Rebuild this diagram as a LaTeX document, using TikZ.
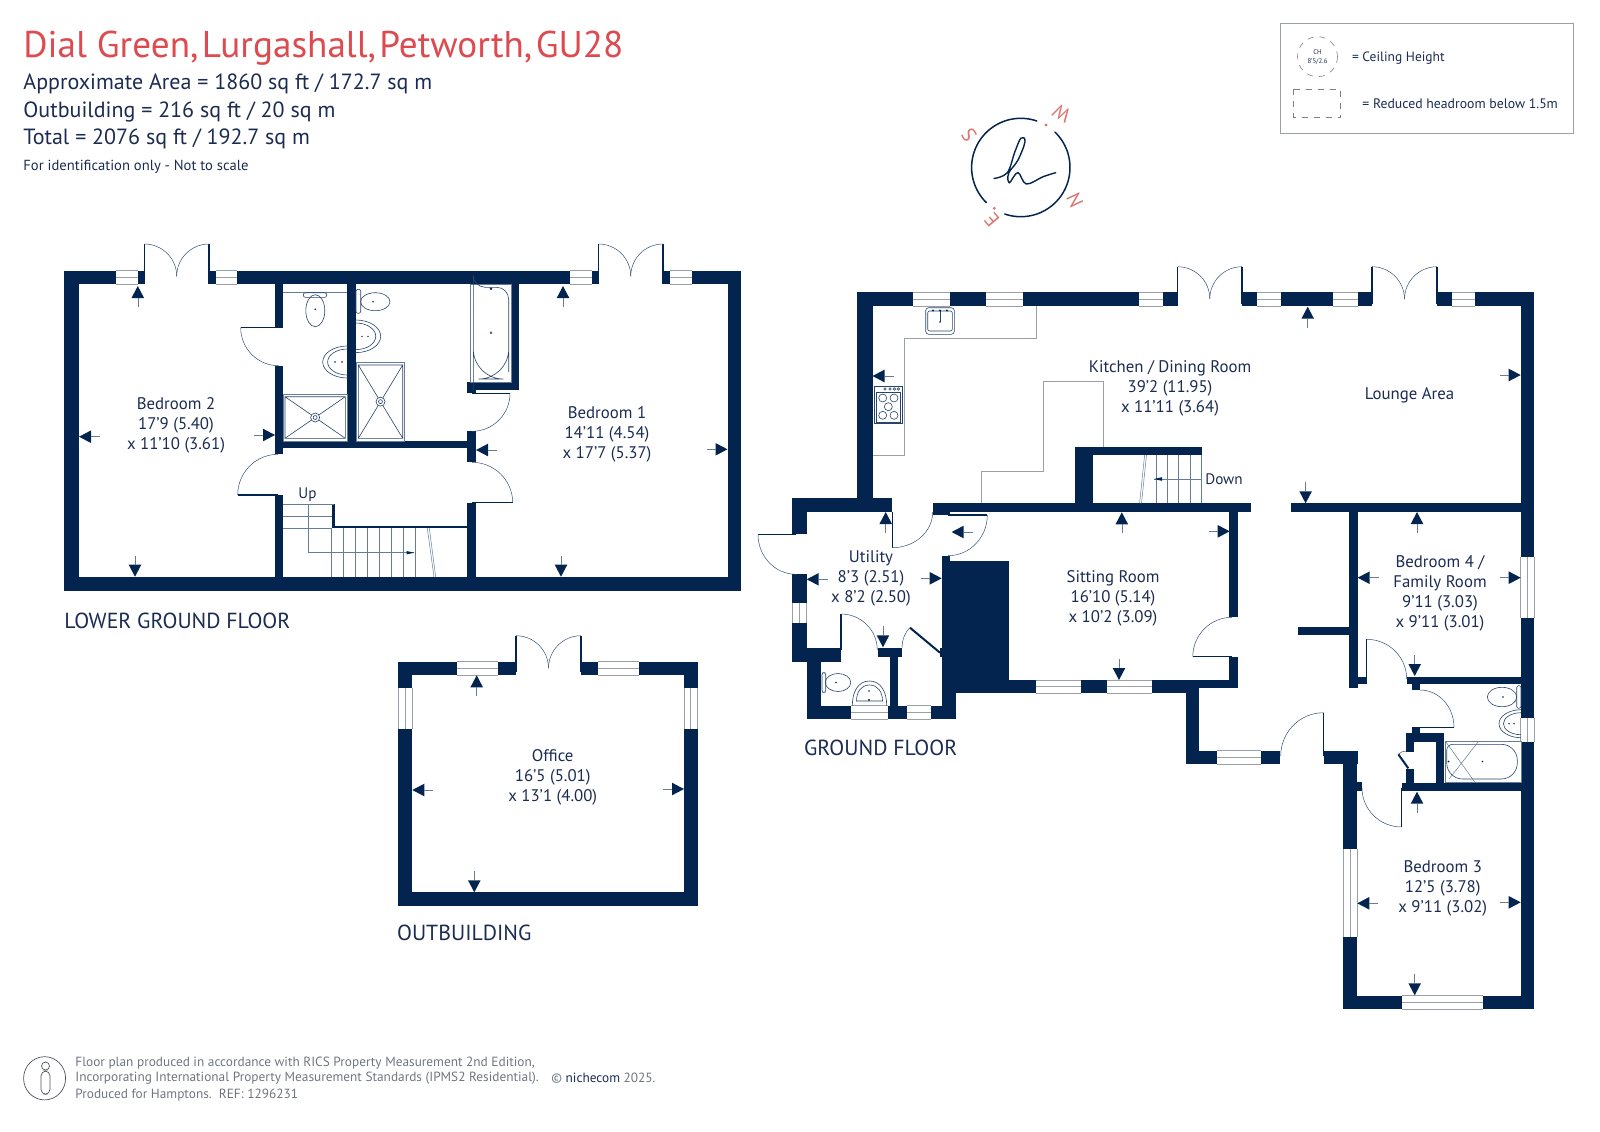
\documentclass[tikz,border=0pt]{standalone}
\usepackage{fontspec}
\setmainfont{PT Sans}
\definecolor{navy}{HTML}{02244F}
\definecolor{txt}{HTML}{1B2B52}
\definecolor{titlered}{HTML}{DD4A4F}
\definecolor{salmon}{HTML}{D9766F}
\definecolor{footg}{HTML}{6F7580}
\definecolor{wingrey}{HTML}{9AA0A8}
\tikzset{
 leaf/.style={draw=navy,line width=.7pt},
 swing/.style={draw=navy!80,line width=.25pt},
 fit/.style={draw=navy!85,line width=.3pt},
 fine/.style={draw=navy!60,line width=.25pt},
 worktop/.style={draw=wingrey,line width=.4pt},
 winline/.style={draw=wingrey,line width=.4pt},
 tail/.style={draw=navy!60,line width=.3pt},
 roomtxt/.style={text=txt,align=center,inner sep=0pt,yshift=-.9pt,font=\fontsize{8.4}{10}\selectfont},
 floortxt/.style={text=txt,anchor=west,inner sep=0pt,font=\fontsize{10.9}{12}\selectfont},
 headtxt/.style={text=txt,anchor=base west,inner sep=0pt,font=\fontsize{11}{13}\selectfont},
 foottxt/.style={text=footg,anchor=west,inner sep=0pt,font=\fontsize{6.66}{8}\selectfont},
 comp/.style={text=salmon,inner sep=0pt,font=\fontsize{10}{11}\selectfont},
}
\newcommand\wl[4]{\fill[navy] (#1,#2) rectangle (#3,#4);}
\newcommand\winh[4]{\fill[white] (#1,#2) rectangle (#3,#4);
 \draw[winline] (#1,#2) -- (#3,#2) (#1,{(#2+#4)/2}) -- (#3,{(#2+#4)/2}) (#1,#4) -- (#3,#4);}
\newcommand\winv[4]{\fill[white] (#1,#2) rectangle (#3,#4);
 \draw[winline] (#1,#2) -- (#1,#4) ({(#1+#3)/2},#2) -- ({(#1+#3)/2},#4) (#3,#2) -- (#3,#4);}
% centre, leaf end, arc end
\newcommand\qarc[6]{\draw[swing] (#3,#4) .. controls ({#3+.5523*(#5-#1)},{#4+.5523*(#6-#2)}) and ({#5+.5523*(#3-#1)},{#6+.5523*(#4-#2)}) .. (#5,#6);}
\newcommand\door[6]{\draw[leaf] (#1,#2) -- (#3,#4);\qarc{#1}{#2}{#3}{#4}{#5}{#6}}
\newcommand\fdoor[4]{\draw[leaf] (#1,#4) -- (#1,#3) (#2,#4) -- (#2,#3);
 \pgfmathsetmacro\fdm{(#1+#2)/2}\pgfmathsetmacro\fdy{#3+(#2-#1)/2}
 \qarc{#1}{\fdy}{#1}{#3}{\fdm}{\fdy}
 \qarc{#2}{\fdy}{#2}{#3}{\fdm}{\fdy}}
\newcommand\arrU[2]{\fill[navy] (#1,#2) -- ({#1-6.3},{#2+12}) -- ({#1+6.3},{#2+12}) -- cycle;\draw[tail] (#1,{#2+12}) -- (#1,{#2+21});}
\newcommand\arrD[2]{\fill[navy] (#1,#2) -- ({#1-6.3},{#2-12}) -- ({#1+6.3},{#2-12}) -- cycle;\draw[tail] (#1,{#2-12}) -- (#1,{#2-21});}
\newcommand\arrL[2]{\fill[navy] (#1,#2) -- ({#1+12},{#2-6.3}) -- ({#1+12},{#2+6.3}) -- cycle;\draw[tail] ({#1+12},#2) -- ({#1+21},#2);}
\newcommand\arrR[2]{\fill[navy] (#1,#2) -- ({#1-12},{#2-6.3}) -- ({#1-12},{#2+6.3}) -- cycle;\draw[tail] ({#1-12},#2) -- ({#1-21},#2);}
% basin: flat side x0, tip xt, centre yc, half height h
\newcommand\dshape[4]{(#1,{#3-#4}) .. controls ({#1+.55*(#2-#1)},{#3-#4}) and (#2,{#3-.55*#4}) .. (#2,#3) .. controls (#2,{#3+.55*#4}) and ({#1+.55*(#2-#1)},{#3+#4}) .. (#1,{#3+#4})}
\newcommand\basin[4]{\pgfmathsetmacro\bxt{#1+.8*(#2-#1)}\pgfmathsetmacro\bhh{#4-3}\draw[fit] \dshape{#1}{#2}{#3}{#4};\draw[fit] \dshape{#1}{\bxt}{#3}{\bhh};}
\newcommand\shower[8]{\draw[fine] (#1,#2) rectangle (#3,#4);\draw[fit] (#5,#6) rectangle (#7,#8) (#5,#6) -- (#7,#8) (#5,#8) -- (#7,#6);
 \fill[white] ({(#5+#7)/2},{(#6+#8)/2}) circle[radius=4.5];\draw[fit] ({(#5+#7)/2},{(#6+#8)/2}) circle[radius=4.5] ({(#5+#7)/2},{(#6+#8)/2}) circle[radius=2];}
\begin{document}
\begin{tikzpicture}[x=.5pt,y=-.5pt]
\useasboundingbox (0,0) rectangle (1600,1131);
% ---------- header
\node[anchor=base west,inner sep=0pt,text=titlered,font=\fontsize{18.6}{22}\selectfont] (title) at (23,57.5) {Dial Green,\hspace{1.7pt}Lurgashall,\hspace{1.7pt}Petworth,\hspace{1.7pt}GU28};
\node[headtxt] (area) at (23,89) {Approximate Area = 1860 sq ft / 172.7 sq m};
\node[headtxt] (outb) at (23,117) {Outbuilding = 216 sq ft / 20 sq m};
\node[headtxt] (total) at (23,144.5) {Total = 2076 sq ft / 192.7 sq m};
\node[headtxt,font=\fontsize{7.3}{9}\selectfont] (ident) at (23,170.7) {For identification only - Not to scale};
% ---------- legend
\draw[draw=wingrey,line width=.5pt] (1280.5,23.3) rectangle (1573.4,133.7);
\draw[draw=gray,line width=.3pt,dashed] (1317.5,56.7) circle[radius=20];
\node[inner sep=0pt,text=txt,font=\fontsize{3.4}{4}\selectfont] (ch1) at (1317.5,52.5) {CH};
\node[inner sep=0pt,text=txt,font=\fontsize{3.4}{4}\selectfont] (ch2) at (1317.5,62) {8'5/2.6};
\node[anchor=west,inner sep=0pt,text=txt,font=\fontsize{6.75}{8}\selectfont] (lg1) at (1351.6,57.8) {= Ceiling Height};
\draw[draw=gray,line width=.3pt,dashed] (1293.5,89.3) rectangle (1340.7,117.3);
\node[anchor=west,inner sep=0pt,text=txt,font=\fontsize{6.88}{8}\selectfont] (lg2) at (1362,103.5) {= Reduced headroom below 1.5m};
% ---------- logo
\draw[navy,line width=.75pt,line cap=round] plot[domain=71:225.6,samples=50] ({1020.8+49.2*cos(\x)},{167.5-49.2*sin(\x)});
\draw[navy,line width=.75pt,line cap=round] plot[domain=251:406,samples=50] ({1020.8+49.2*cos(\x)},{167.5-49.2*sin(\x)});
\draw[navy,line width=.7pt,line cap=round] plot[smooth,tension=.6] coordinates {(994,178.5) (1007.3,172.7) (1014.9,151.7) (1021,138) (1025,141.7) (1018,160) (1008.6,173.3) (1009.4,182.7) (1017.9,172.5) (1026.3,184) (1043.1,176.7) (1055.7,172.7)};
\fill[salmon] (1046,125) circle[radius=1.6];
\fill[salmon] (994.3,208.3) circle[radius=1.6];
\node[comp,rotate=150] (cw) at (1061.7,113.3) {W};
\node[comp,rotate=125] (cs) at (969,135) {S};
\node[comp,rotate=115] (cn) at (1075,200) {N};
\node[comp,rotate=130] (ce) at (991.7,220) {E};
% ---------- LOWER GROUND FLOOR
\wl{64.3}{270.7}{116}{284}\wl{138}{270.7}{144.4}{284}\wl{209}{270.7}{216}{284}\wl{237}{270.7}{570.4}{284}
\wl{592}{270.7}{598.5}{284}\wl{663}{270.7}{670}{284}\wl{692}{270.7}{741}{284}
\winh{116}{270.7}{138}{284}\winh{216}{270.7}{237}{284}\winh{570.4}{270.7}{592}{284}\winh{670}{270.7}{692}{284}
\wl{64.3}{270.7}{78.5}{591}\wl{727.5}{270.7}{741}{591}\wl{64.3}{577}{741}{591}
\wl{274.7}{284}{283}{327.7}\wl{274.7}{365.7}{283}{454.3}\wl{274.7}{495}{283}{577}
\wl{347.3}{284}{356}{448}\wl{283}{441}{476}{448.3}
\wl{467.3}{431.3}{476}{462.3}\wl{467.3}{502.7}{476}{577}
\wl{511.7}{284}{519.3}{390}\wl{467.3}{382.3}{519.3}{390}\wl{467.3}{390}{476}{393.3}
\fdoor{144.4}{209}{244}{284}\fdoor{598.5}{663}{244}{284}
\door{278.7}{327.7}{240.7}{327.7}{278.7}{365.7}
\door{472}{393.3}{510}{393.3}{472}{431.3}
\door{278}{495}{237.7}{495}{278}{454.3}
\door{472}{502.7}{512.7}{502.7}{472}{462.3}
% stairs
\wl{331.7}{504.3}{334.7}{528}\wl{331.7}{526}{467.3}{528.3}
\draw[fine] (283,504.3) -- (334,504.3) (283,516.7) -- (332,516.7) (283,528.7) -- (332,528.7);
\foreach \sx in {331.7,343.7,355.7,367.7,379.7,391.7,403.7,415.7}{\draw[fine] (\sx,528) -- (\sx,577);}
\draw[fine] (427.3,528) -- (434,577) (429.3,528) -- (435.7,577);
\draw[fine] (308.3,504.3) -- (308.3,552.7) -- (414.3,552.7);
\fill[navy] (414.3,552.7) -- (406.5,551) -- (406.5,554.4) -- cycle;
\node[inner sep=0pt,text=txt,font=\fontsize{7.6}{9}\selectfont] (up) at (307.5,495) {Up};
% fittings
\draw[fine] (283,292.7) -- (347.3,292.7);
\draw[fit,rounded corners=1] (303.3,292.7) rectangle (326.7,297.3);
\draw[fit] (315.3,310.7) ellipse[x radius=9.5,y radius=16];
\fill[navy] (315.3,309.3) circle[radius=.9];
\basin{347.3}{322.7}{362}{16}
\fill[navy] (335,362) circle[radius=.8] (342,362) circle[radius=.8];
\shower{283}{394}{347.3}{441}{285}{396.7}{345.3}{438.3}
\draw[fit,rounded corners=1] (356,289.3) rectangle (360.7,313.3);
\draw[fit] (375.3,301.7) ellipse[x radius=14.7,y radius=9];
\fill[navy] (373,301.7) circle[radius=.9];
\basin{356}{380.7}{336.3}{16.3}
\fill[navy] (362,336.3) circle[radius=.8] (368,336.3) circle[radius=.8];
\shower{356}{362.7}{404.7}{441}{358.3}{365}{402.7}{438.3}
\draw[fine] (470.7,284) rectangle (511.7,382.3);
\draw[fit,rounded corners=6] (473.3,287.3) -- (508.7,287.3) -- (508.7,360) [rounded corners=15] -- (508.7,379) -- (473.3,379) -- (473.3,360) [rounded corners=6] -- (473.3,287.3) -- cycle;
\fill[navy] (491,288.7) circle[radius=1.4];
\draw[fit] (491,332.7) circle[radius=1];
% arrows
\arrU{137.8}{286}\arrD{135}{576.7}\arrL{79}{436.7}\arrR{275}{435}
\arrU{563}{286}\arrD{561}{576.7}\arrL{476}{450}\arrR{727.5}{449.3}
\node[roomtxt] (bed2) at (176,424) {Bedroom 2\\17'9 (5.40)\\x 11'10 (3.61)};
\node[roomtxt] (bed1) at (607,432.5) {Bedroom 1\\14'11 (4.54)\\x 17'7 (5.37)};
\node[floortxt] (lgf) at (64,621) {LOWER GROUND FLOOR};
% ---------- OUTBUILDING
\wl{398}{661.7}{457.3}{675.3}\winh{457.3}{661.7}{498.3}{675.3}\wl{498.3}{661.7}{516}{675.3}
\wl{581}{661.7}{598}{675.3}\winh{598}{661.7}{639}{675.3}\wl{639}{661.7}{697.7}{675.3}
\wl{398}{661.7}{412.3}{906}\wl{684}{661.7}{697.7}{906}\wl{398}{892.3}{697.7}{906}
\winv{398}{687.7}{412.3}{729.3}\winv{684}{687.7}{697.7}{729.3}
\fdoor{516}{581}{635.7}{672}
\arrU{476.7}{675.3}\arrL{412.3}{790}\arrR{684}{789}\arrD{474.3}{892.3}
\node[roomtxt] (office) at (552.7,775.7) {Office\\16'5 (5.01)\\x 13'1 (4.00)};
\node[floortxt] (obl) at (396.7,932.7) {OUTBUILDING};
% ---------- GROUND FLOOR: top wall
\wl{857.3}{292.3}{912.6}{306}\winh{912.6}{292.3}{949.5}{306}\wl{949.5}{292.3}{985.8}{306}\winh{985.8}{292.3}{1022.6}{306}
\wl{1022.6}{292.3}{1139}{306}\winh{1139}{292.3}{1163}{306}\wl{1163}{292.3}{1177.6}{306}
\wl{1242}{292.3}{1256.8}{306}\winh{1256.8}{292.3}{1281}{306}\wl{1281}{292.3}{1332.7}{306}\winh{1332.7}{292.3}{1357.6}{306}\wl{1357.6}{292.3}{1372}{306}
\wl{1437}{292.3}{1452}{306}\winh{1452}{292.3}{1475}{306}\wl{1475}{292.3}{1534.3}{306}
\fdoor{1177.6}{1242}{266.7}{304}\fdoor{1372}{1437}{266.7}{304}
% kitchen and utility
\wl{857.3}{292.3}{872.5}{512}
\wl{792.3}{498}{892.3}{512}\wl{792.3}{498}{806.7}{534.3}
\wl{792.3}{574.3}{806.7}{662}\winv{792.3}{602.7}{806.7}{622.7}
\wl{792.3}{647.7}{841}{662}\wl{807.3}{662}{821.3}{719.3}
\wl{807.3}{705.7}{850.7}{719.3}\winh{850.7}{705.7}{887.7}{719.3}\wl{887.7}{705.7}{907.3}{719.3}\winh{907.3}{705.7}{931}{719.3}\wl{931}{705.7}{955.7}{719.3}
\wl{877.7}{647.7}{902.3}{656.7}\wl{890}{656.7}{898.3}{705.7}
\wl{942.3}{555.7}{950}{560.7}\wl{942.3}{560.7}{1009.3}{680}\wl{942.3}{680}{955.7}{719.3}
\wl{942.3}{680}{1035.6}{693.3}\winh{1035.6}{680}{1081}{693.3}\wl{1081}{680}{1106.6}{693.3}\winh{1106.6}{680}{1152}{693.3}
\wl{1152}{680}{1199}{693.3}\wl{1152}{680}{1237.7}{688.3}
\wl{1185.7}{688}{1199}{764}\wl{1185.7}{750.7}{1217.3}{764}\winh{1217.3}{750.7}{1261.3}{764}\wl{1261.3}{750.7}{1280}{764}
\wl{1229.3}{503.3}{1237.7}{617.3}\wl{1229.3}{657.3}{1237.7}{688.3}
\wl{933}{503.3}{1250.8}{512}\wl{933}{512}{950}{515}
\wl{1075}{446.7}{1092.5}{503.3}\wl{1075}{446.7}{1201.5}{455}
\wl{1291}{503.3}{1521}{512}
% right side
\wl{1520.7}{292.3}{1534.3}{556.7}\winv{1520.7}{556.7}{1534.3}{618}\wl{1520.7}{618}{1534.3}{717.7}\winv{1520.7}{717.7}{1534.3}{741.7}\wl{1520.7}{741.7}{1534.3}{1009}
\wl{1349.3}{512}{1357.6}{688.3}\wl{1298.3}{626.7}{1349.3}{634.7}\wl{1357.6}{676.7}{1366.7}{684.3}
\wl{1406.7}{676.7}{1521}{684.3}\wl{1412}{684.3}{1420}{690}
\wl{1412}{727.3}{1420}{733.3}\wl{1405.7}{733.3}{1444.3}{741.7}\wl{1436}{733.3}{1444.3}{791}
\wl{1405.7}{733.3}{1414}{751.7}\wl{1405.7}{769.3}{1414}{791}\wl{1402}{782.7}{1521}{791}
\wl{1324}{750.7}{1357.7}{764}\wl{1343.3}{750.7}{1357.3}{849.3}\winv{1343.3}{849.3}{1357.3}{937.3}\wl{1343.3}{937.3}{1357.3}{1009}
\wl{1357.3}{782.3}{1362}{790.7}
\wl{1343.3}{995.7}{1402.3}{1009}\winh{1402.3}{995.7}{1483}{1009}\wl{1483}{995.7}{1534.3}{1009}
% doors
\door{796}{534.3}{758}{534.3}{796}{574.3}
\door{892.3}{512}{892.3}{547.7}{932.7}{512}
\door{948}{515}{987.3}{515}{948}{555.7}
\door{841}{650}{841}{614}{877.3}{650}
\draw[navy,line width=1pt] (910,627.7) -- (940,652.7);
\wl{940}{648}{943}{656.7}
\draw[swing] (910,627.7) .. controls (905,632) and (902,640) .. (902,647.7);
\door{1232}{656.7}{1192.8}{656.7}{1232}{617.3}
\door{1366.7}{679}{1366.7}{639.3}{1406.7}{679}
\door{1420}{727.3}{1454}{727.3}{1420}{690}
\draw[navy,line width=1pt] (1398.3,754.3) -- (1408.3,768.3);
\draw[swing] (1398.3,754.3) .. controls (1400,752.5) and (1403,751) .. (1406,751);
\door{1401.7}{788}{1401.7}{827}{1362}{788}
\door{1323.5}{756}{1323.5}{712.7}{1280.7}{756}
% kitchen fittings
\draw[worktop] (1036,306) -- (1036,338) -- (904.5,338) -- (904.5,455.7) -- (872.5,455.7);
\draw[worktop] (1103.4,446.7) -- (1103.4,381.3) -- (1043.2,381.3) -- (1043.2,471.3) -- (981,471.3) -- (981,503.3);
\draw[fit,rounded corners=1.5] (925.7,307.7) rectangle (954.3,334.3);
\draw[fit,rounded corners=1] (927.7,311) rectangle (952.3,331);
\draw[fit] (940,311) -- (940,322);
\fill[navy] (940,322) circle[radius=.9] (933,310.5) circle[radius=1.1] (940,310.5) circle[radius=1.1] (947,310.5) circle[radius=1.1];
\draw[fit] (874.3,386) rectangle (902.3,423.7);\draw[fit] (876,392) rectangle (900.7,422);
\foreach \hx/\hy in {882.7/398,894/398,888.3/406.7,882.7/415.3,894/415.3}{\draw[fit] (\hx,\hy) circle[radius=4];}
\foreach \hx in {885,890,894.3,898.3}{\draw[fit] (\hx,389) circle[radius=1.3];}
% ground stairs
\foreach \sx in {1156.5,1167.3,1178.2,1190,1201.5}{\draw[fine] (\sx,455) -- (\sx,503.3);}
\draw[fine] (1146.5,455) -- (1141.5,503.3) (1144.6,455) -- (1139.6,503.3);
\draw[fine] (1201.5,479) -- (1154,479);
\fill[navy] (1153.8,479) -- (1162,477.2) -- (1162,480.8) -- cycle;
\node[inner sep=0pt,text=txt,font=\fontsize{7.6}{9}\selectfont] (down) at (1224,479) {Down};
% WC fittings
\draw[fit,rounded corners=1] (822,672.7) rectangle (825.7,692.3);
\draw[fit] (838,682.5) ellipse[x radius=12.7,y radius=9];
\fill[navy] (836,682.5) circle[radius=.9];
\draw[fit] (852.3,705.7) .. controls (852.3,692) and (858,681) .. (869.5,681) .. controls (881,681) and (886.7,692) .. (886.7,705.7);
\draw[fit] (856.5,701) .. controls (856.5,692) and (861,685) .. (869.5,685) .. controls (878,685) and (882.5,692) .. (882.5,701) -- cycle;
\fill[navy] (869,691) circle[radius=.8] (869,700) circle[radius=1.2];
% bath 2 fittings
\draw[fit,rounded corners=1] (1516.7,685.7) rectangle (1521,708.3);
\draw[fit] (1502,697) ellipse[x radius=14.7,y radius=9.7];
\fill[navy] (1503,697) circle[radius=.8];
\basin{1521}{1499}{723.7}{14}
\fill[navy] (1509,723.7) circle[radius=.8] (1514,723.7) circle[radius=.8];
\draw[fine] (1445.7,741.7) rectangle (1521,782.3);
\draw[fit,rounded corners=8] (1446.7,744.3) -- (1517.3,744.3) -- (1517.3,779) -- (1446.7,779) [rounded corners=3] -- cycle;
\draw[fine] (1445.7,741.7) -- (1475,782.3) (1478.3,741.7) -- (1449,779);
\fill[navy] (1482.5,761.5) circle[radius=.8] (1448.5,761.5) circle[radius=1];
% ground arrows
\arrL{872.5}{376}\arrU{1307.7}{306.7}\arrR{1520.7}{375}\arrD{1305.6}{503.3}
\arrU{1121.8}{512.3}\arrR{1229.7}{531.3}\arrL{951.6}{532}\arrD{1119}{680}
\arrU{885.7}{512}\arrL{806.7}{579.3}\arrR{941.7}{578.3}\arrD{883}{647.3}
\arrU{1417}{512}\arrL{1357.6}{577.7}\arrR{1520.7}{577.7}\arrD{1414.7}{676}
\arrU{1417}{791.7}\arrL{1357.3}{903.3}\arrR{1520.7}{902.3}\arrD{1414.7}{995.3}
% labels
\node[roomtxt] (kitchen) at (1170,386.3) {Kitchen / Dining Room\\39'2 (11.95)\\x 11'11 (3.64)};
\node[roomtxt] (lounge) at (1409.6,393.7) {Lounge Area};
\node[roomtxt] (sitting) at (1113,596.3) {Sitting Room\\16'10 (5.14)\\x 10'2 (3.09)};
\node[roomtxt] (utility) at (871,577) {Utility\\8'3 (2.51)\\x 8'2 (2.50)};
\node[roomtxt] (bed4) at (1440,591.7) {Bedroom 4 /\\Family Room\\9'11 (3.03)\\x 9'11 (3.01)};
\node[roomtxt] (bed3) at (1442.7,886.7) {Bedroom 3\\12'5 (3.78)\\x 9'11 (3.02)};
\node[floortxt] (gf) at (803.7,747.7) {GROUND FLOOR};
% ---------- footer
\draw[footg!70!black,line width=.35pt] (44.6,1078.3) ellipse[x radius=21,y radius=21.6];
\draw[footg!70!black,line width=.35pt] (45.5,1066) circle[radius=4];
\draw[footg!70!black,line width=.35pt,rounded corners=2.5] (41,1071) rectangle (50,1094.3);
\node[foottxt] (f1) at (75,1062.7) {Floor plan produced in accordance with RICS Property Measurement 2nd Edition,};
\node[foottxt] (f2) at (75,1078.3) {Incorporating International Property Measurement Standards (IPMS2 Residential).};
\node[foottxt] (f3) at (75,1095) {Produced for Hamptons.\ \ REF: 1296231};
\node[foottxt] (f4) at (551,1078.3) {© \textcolor{txt}{nichecom} 2025.};
\end{tikzpicture}
\end{document}
